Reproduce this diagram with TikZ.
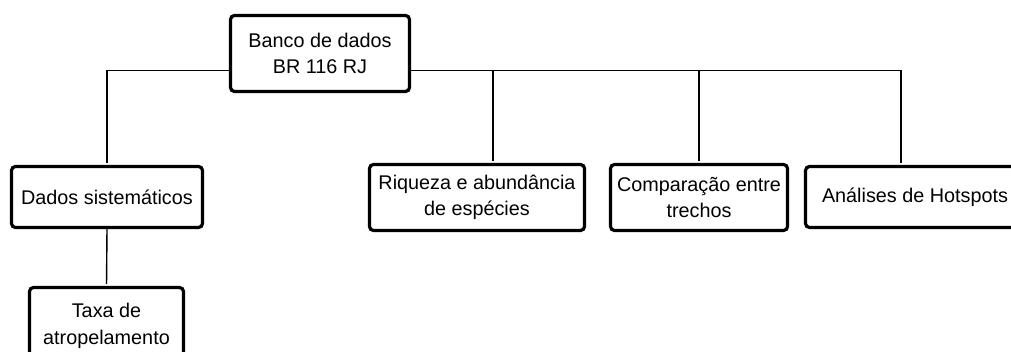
\documentclass[tikz,border=0pt]{standalone}
\usepackage{fontspec}
\setmainfont{Liberation Sans}
\usepackage{tikz}
\usetikzlibrary{calc,positioning}
\tikzset{
  box/.style={draw, rounded corners=4pt, line width=3.2pt, align=center,
  text centered, inner sep=0pt, font=\fontsize{19.8}{26.5}\selectfont},
  link/.style={line width=1.4pt, shorten >=2pt}
}

\begin{document}
\begin{tikzpicture}[x=1pt,y=-1pt]
\clip (0,0) rectangle (1011,352);
\node[box, minimum width=179pt, minimum height=76pt] (banco) at (320,53.5)
	{Banco de dados\\BR 116 RJ};
\node[box, minimum width=191pt, minimum height=61pt] (dados) at (107,197)
	{Dados sistem\'aticos};
\node[box, minimum width=154pt, minimum height=77pt] (taxa) at (106.5,326)
	{Taxa de\\atropelamento};
\node[box, minimum width=215pt, minimum height=66pt] (riqueza) at (477,197.5)
	{Riqueza e abund\^ancia\\de esp\'ecies};
\node[box, minimum width=177pt, minimum height=66pt] (trechos) at (699,197.5)
	{Compara\c{c}\~ao entre\\trechos};
\node[box, minimum width=219pt, minimum height=61pt] (hotspots) at (915,197)
	{An\'alises de Hotspots};
\coordinate (bus) at ([yshift=-17pt]banco.east);
\draw[link] ([yshift=-17pt]banco.west) -| (dados.north);
\draw[link] (dados.south) -- (taxa.north);
\draw[link] (bus) -| ([xshift=-14pt]hotspots.north);
\draw[link] (bus -| riqueza.north) ++(16pt,0) -- ([xshift=16pt]riqueza.north);
\draw[link] (bus -| trechos.north) -- (trechos.north);
\end{tikzpicture}
\end{document}
